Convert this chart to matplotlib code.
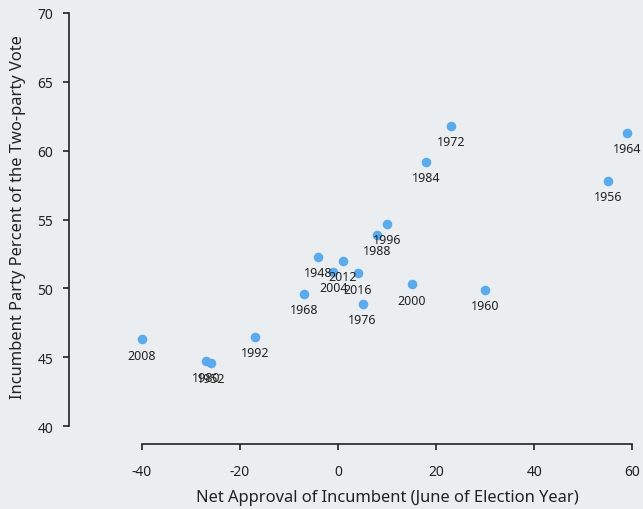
"""
Incumbent party vote share vs. June net approval, labelled scatter.
"""

import matplotlib

matplotlib.use("Agg")
import matplotlib.pyplot as plt

years = [2008, 1980, 1952, 1992, 1968, 1948, 2004, 2012, 2016, 1976,
         1988, 1996, 2000, 1960, 1984, 1972, 1956, 1964]
net_approval = [-40, -27, -26, -17, -7, -4, -1, 1, 4, 5,
                8, 10, 15, 30, 18, 23, 55, 59]
vote_share = [46.3, 44.7, 44.6, 46.5, 49.6, 52.3, 51.2, 52.0, 51.1, 48.9,
              53.9, 54.7, 50.3, 49.9, 59.2, 61.8, 57.8, 61.3]

BG = "#ebeef0"
POINT = "#5aaaec"
INK = "#222222"


def main() -> None:
    plt.rcParams["font.family"] = ["Noto Sans", "DejaVu Sans"]
    plt.rcParams["axes.unicode_minus"] = False
    fig = plt.figure(figsize=(6.43, 5.10), dpi=100, facecolor=BG)
    ax = fig.add_axes([69 / 643, 1 - 445 / 510, 571 / 643, 431 / 510])
    ax.set_facecolor(BG)

    ax.scatter(net_approval, vote_share, s=48, color=POINT, zorder=3,
               linewidths=0)
    for yr, x, y in zip(years, net_approval, vote_share):
        ax.annotate(str(yr), (x, y), xytext=(0, -11.5), textcoords="offset points",
                    ha="center", va="center", fontsize=9, color=INK)

    ax.set_xlim(-54.9, 61.6)
    ax.set_ylim(38.7, 70)
    ax.set_xticks([-40, -20, 0, 20, 40, 60])
    ax.set_yticks([40, 45, 50, 55, 60, 65, 70])

    for side in ("top", "right"):
        ax.spines[side].set_visible(False)
    ax.spines["left"].set_bounds(40, 70)
    ax.spines["bottom"].set_bounds(-40, 60)
    for side in ("left", "bottom"):
        ax.spines[side].set_color(INK)
        ax.spines[side].set_linewidth(1.2)

    ax.tick_params(axis="both", colors=INK, labelsize=10, length=4.5,
                   width=1.2)
    ax.tick_params(axis="x", pad=10)
    ax.tick_params(axis="y", pad=7)

    ax.set_xlabel("Net Approval of Incumbent (June of Election Year)",
                  fontsize=11.9, color=INK, labelpad=7)
    ax.set_ylabel("Incumbent Party Percent of the Two-party Vote",
                  fontsize=11.9, color=INK, labelpad=8)
    # titles sit off-centre relative to the drawn axis lines
    ax.xaxis.label.set_x(0.557)
    ax.yaxis.label.set_y(0.529)

    fig.savefig("out.png", dpi=100, facecolor=BG)
    plt.close(fig)


if __name__ == "__main__":
    main()
